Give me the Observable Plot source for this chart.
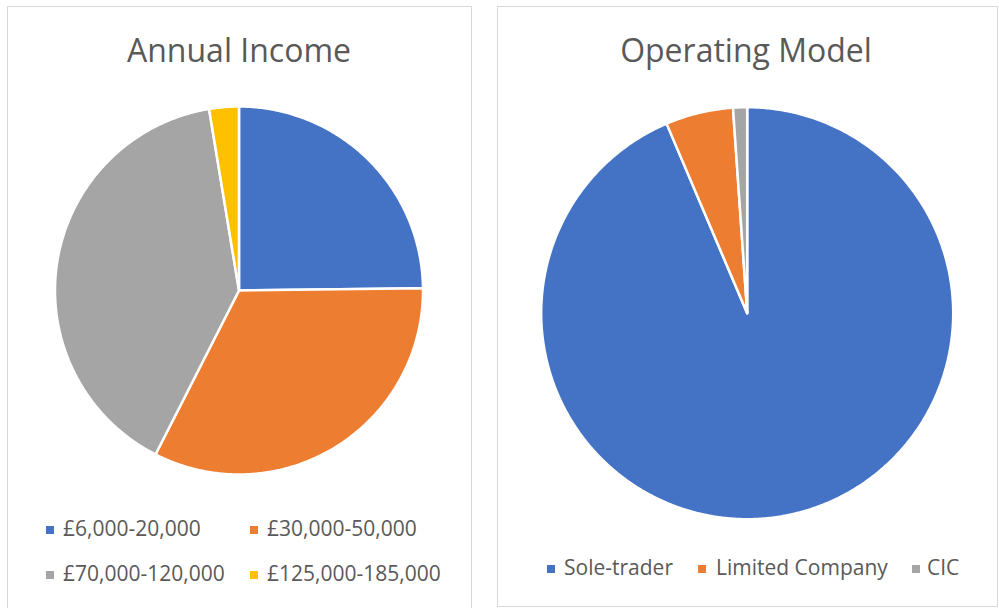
<!DOCTYPE html>
<html>
<head>
<meta charset="utf-8">
<script src="https://cdn.jsdelivr.net/npm/d3@7"></script>
<script src="https://cdn.jsdelivr.net/npm/@observablehq/plot@0.6"></script>
<style>
  html, body { margin: 0; padding: 0; background: #ffffff; width: 999px; height: 608px; overflow: hidden; }
  body { position: relative; font-family: "Open Sans", "Noto Sans", sans-serif; color: #595959; }
  .panel { position: absolute; box-sizing: border-box; border: 1px solid #D9D9D9; background: #fff; }
  .chart { position: absolute; }
  .title { position: absolute; width: 400px; text-align: center; font-size: 32px; line-height: 32px; white-space: nowrap; }
  .sw { position: absolute; width: 8px; height: 8px; }
  .lt { position: absolute; font-size: 21px; line-height: 21px; white-space: nowrap; }
</style>
</head>
<body>
<div class="panel" style="left:7px;top:6px;width:465px;height:606px;"></div>
<div class="panel" style="left:497px;top:6px;width:501px;height:601px;"></div>
<div id="c1" class="chart" style="left:8px;top:7px;"></div>
<div id="c2" class="chart" style="left:498px;top:7px;"></div>
<div id="text"></div>
<script>
// ---- data ----
const incomeTitle = "Annual Income";
const incomeLabels = ["£6,000-20,000", "£30,000-50,000", "£70,000-120,000", "£125,000-185,000"];
const incomeValues = [24.8, 32.7, 39.9, 2.6];

const modelTitle = "Operating Model";
const modelLabels = ["Sole-trader", "Limited Company", "CIC"];
const modelValues = [93.6, 5.3, 1.1];

const sliceColors = ["#4472C4", "#ED7D31", "#A5A5A5", "#FFC000"];

// ---- helpers ----
function slicePolygons(labels, values) {
  const arcs = d3.pie().sort(null).value(d => d.v)(labels.map((c, i) => ({c, v: values[i]})));
  const pts = [];
  for (const a of arcs) {
    const cat = a.data.c;
    pts.push({cat, x: 0, y: 0});
    const n = Math.max(2, Math.ceil((a.endAngle - a.startAngle) / (Math.PI / 360)));
    for (let k = 0; k <= n; k++) {
      const t = a.startAngle + (a.endAngle - a.startAngle) * k / n;
      pts.push({cat, x: Math.sin(t), y: Math.cos(t)});
    }
    pts.push({cat, x: 0, y: 0});
  }
  return pts;
}

function pie(labels, values, W, H, cx, cy, r) {
  return Plot.plot({
    width: W, height: H, margin: 0,
    style: {background: "transparent", overflow: "visible"},
    x: {domain: [-1, 1], range: [cx - r, cx + r], axis: null},
    y: {domain: [-1, 1], range: [cy + r, cy - r], axis: null},
    color: {domain: labels, range: sliceColors.slice(0, labels.length)},
    marks: [
      Plot.line(slicePolygons(labels, values), {
        x: "x", y: "y", z: "cat", fill: "cat",
        stroke: "#ffffff", strokeWidth: 2.5, strokeLinejoin: "round"
      })
    ]
  });
}

document.getElementById("c1").append(pie(incomeLabels, incomeValues, 462, 598, 230.5, 283, 184));
document.getElementById("c2").append(pie(modelLabels, modelValues, 498, 598, 248.7, 305.7, 206));

// ---- titles & legends (HTML) ----
const T = document.getElementById("text");
function addTitle(txt, centerX, top) {
  const d = document.createElement("div");
  d.className = "title"; d.textContent = txt;
  d.style.left = (centerX - 200) + "px"; d.style.top = top + "px";
  T.append(d);
}
function addItem(label, color, swX, swY, txX, txY) {
  const s = document.createElement("div");
  s.className = "sw"; s.style.left = swX + "px"; s.style.top = swY + "px"; s.style.background = color;
  const t = document.createElement("div");
  t.className = "lt"; t.textContent = label; t.style.left = txX + "px"; t.style.top = txY + "px";
  T.append(s, t);
}
addTitle(incomeTitle, 239, 33.6);
addTitle(modelTitle, 746, 33.6);

const leftPos = [[46, 526, 63, 518], [250, 526, 267, 518], [46, 571, 63, 563], [250, 571, 267, 563]];
incomeLabels.forEach((l, i) => addItem(l, sliceColors[i], ...leftPos[i]));
const rightPos = [[547, 565, 564, 557], [698, 565, 716, 557], [912, 565, 927, 557]];
modelLabels.forEach((l, i) => addItem(l, sliceColors[i], ...rightPos[i]));
</script>
</body>
</html>
